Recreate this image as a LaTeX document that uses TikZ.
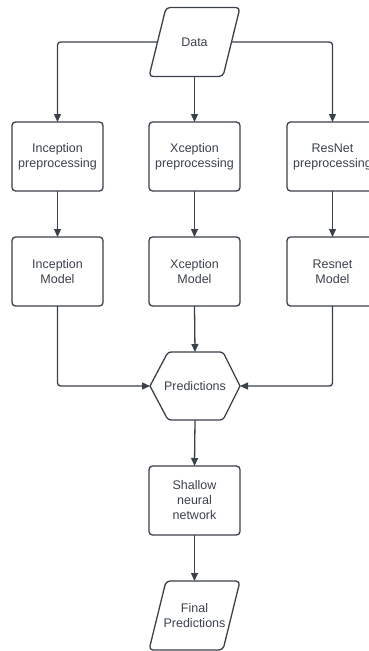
\documentclass[tikz,border=0pt]{standalone}
\usepackage{fontspec}
\setmainfont{Liberation Sans}
\usetikzlibrary{arrows.meta,calc}
\definecolor{ln}{HTML}{3A414A}
\begin{document}
\begin{tikzpicture}[x=1pt,y=-1pt,
  font=\fontsize{12.5}{15}\selectfont,
  base/.style={draw=ln,line width=1.3pt,text=ln,align=center,outer sep=0pt,inner sep=0pt},
  procbox/.style={base,rectangle,rounded corners=3.5pt,minimum width=91pt,minimum height=69pt},
  iobox/.style={base,draw=none,rectangle,minimum width=91pt,minimum height=69pt},
  shapeline/.style={draw=ln,line width=1.3pt,line join=round},
  conn/.style={draw=ln,line width=1.3pt,rounded corners=3pt,-{Triangle[length=8pt,width=7pt]}}]
\useasboundingbox (0,0) rectangle (369,651);
\clip (0,0) rectangle (369,651);
% Data (parallelogram)
\node[iobox] (data) at (194.5,42) {Data};
\draw[shapeline,rounded corners=4pt] ($(data.north west)+(17,0)$) -- (data.north east) -- ($(data.south east)+(-17,0)$) -- (data.south west) -- cycle;
\coordinate (datal) at ($(data.west)+(8.5,0)$);
\coordinate (datar) at ($(data.east)+(-8.5,0)$);
\node[procbox] (ip) at (57.5,156.5) {Inception\\preprocessing};
\node[procbox] (xp) at (194.5,156.5) {Xception\\preprocessing};
\node[procbox] (rp) at (332.5,156.5) {ResNet\\preprocessing};
\node[procbox] (im) at (57.5,271.5) {Inception\\Model};
\node[procbox] (xm) at (194.5,271.5) {Xception\\Model};
\node[procbox] (rm) at (332.5,271.5) {Resnet\\Model};
% Predictions (hexagon)
\node[base,draw=none,rectangle,minimum width=90pt,minimum height=68pt] (pred) at (195,386) {Predictions};
\draw[shapeline] (pred.west) [rounded corners=3pt] -- ($(pred.north west)+(18,0)$) -- ($(pred.north east)+(-17,0)$) [sharp corners] -- (pred.east) [rounded corners=3pt] -- ($(pred.south east)+(-17,0)$) -- ($(pred.south west)+(18,0)$) [sharp corners] -- cycle;
\node[procbox] (snn) at (194.5,500.5) {Shallow\\neural\\network};
% Final Predictions (parallelogram)
\node[iobox] (fin) at (194.5,615.5) {Final\\Predictions};
\draw[shapeline,rounded corners=4pt] ($(fin.north west)+(17,0)$) -- (fin.north east) -- ($(fin.south east)+(-17,0)$) -- (fin.south west) -- cycle;
% connectors
\draw[conn] (datal) -| (ip.north);
\draw[conn] (datar) -| (rp.north);
\draw[conn] (data.south) -- (xp.north);
\draw[conn] (ip.south) -- (im.north);
\draw[conn] (xp.south) -- (xm.north);
\draw[conn] (rp.south) -- (rm.north);
\draw[conn] (xm.south) -- (pred.north);
\draw[conn] (im.south) |- (pred.west);
\draw[conn] (rm.south) |- (pred.east);
\draw[conn] (pred.south) -- (snn.north);
\draw[conn] (snn.south) -- (fin.north);
\end{tikzpicture}
\end{document}
